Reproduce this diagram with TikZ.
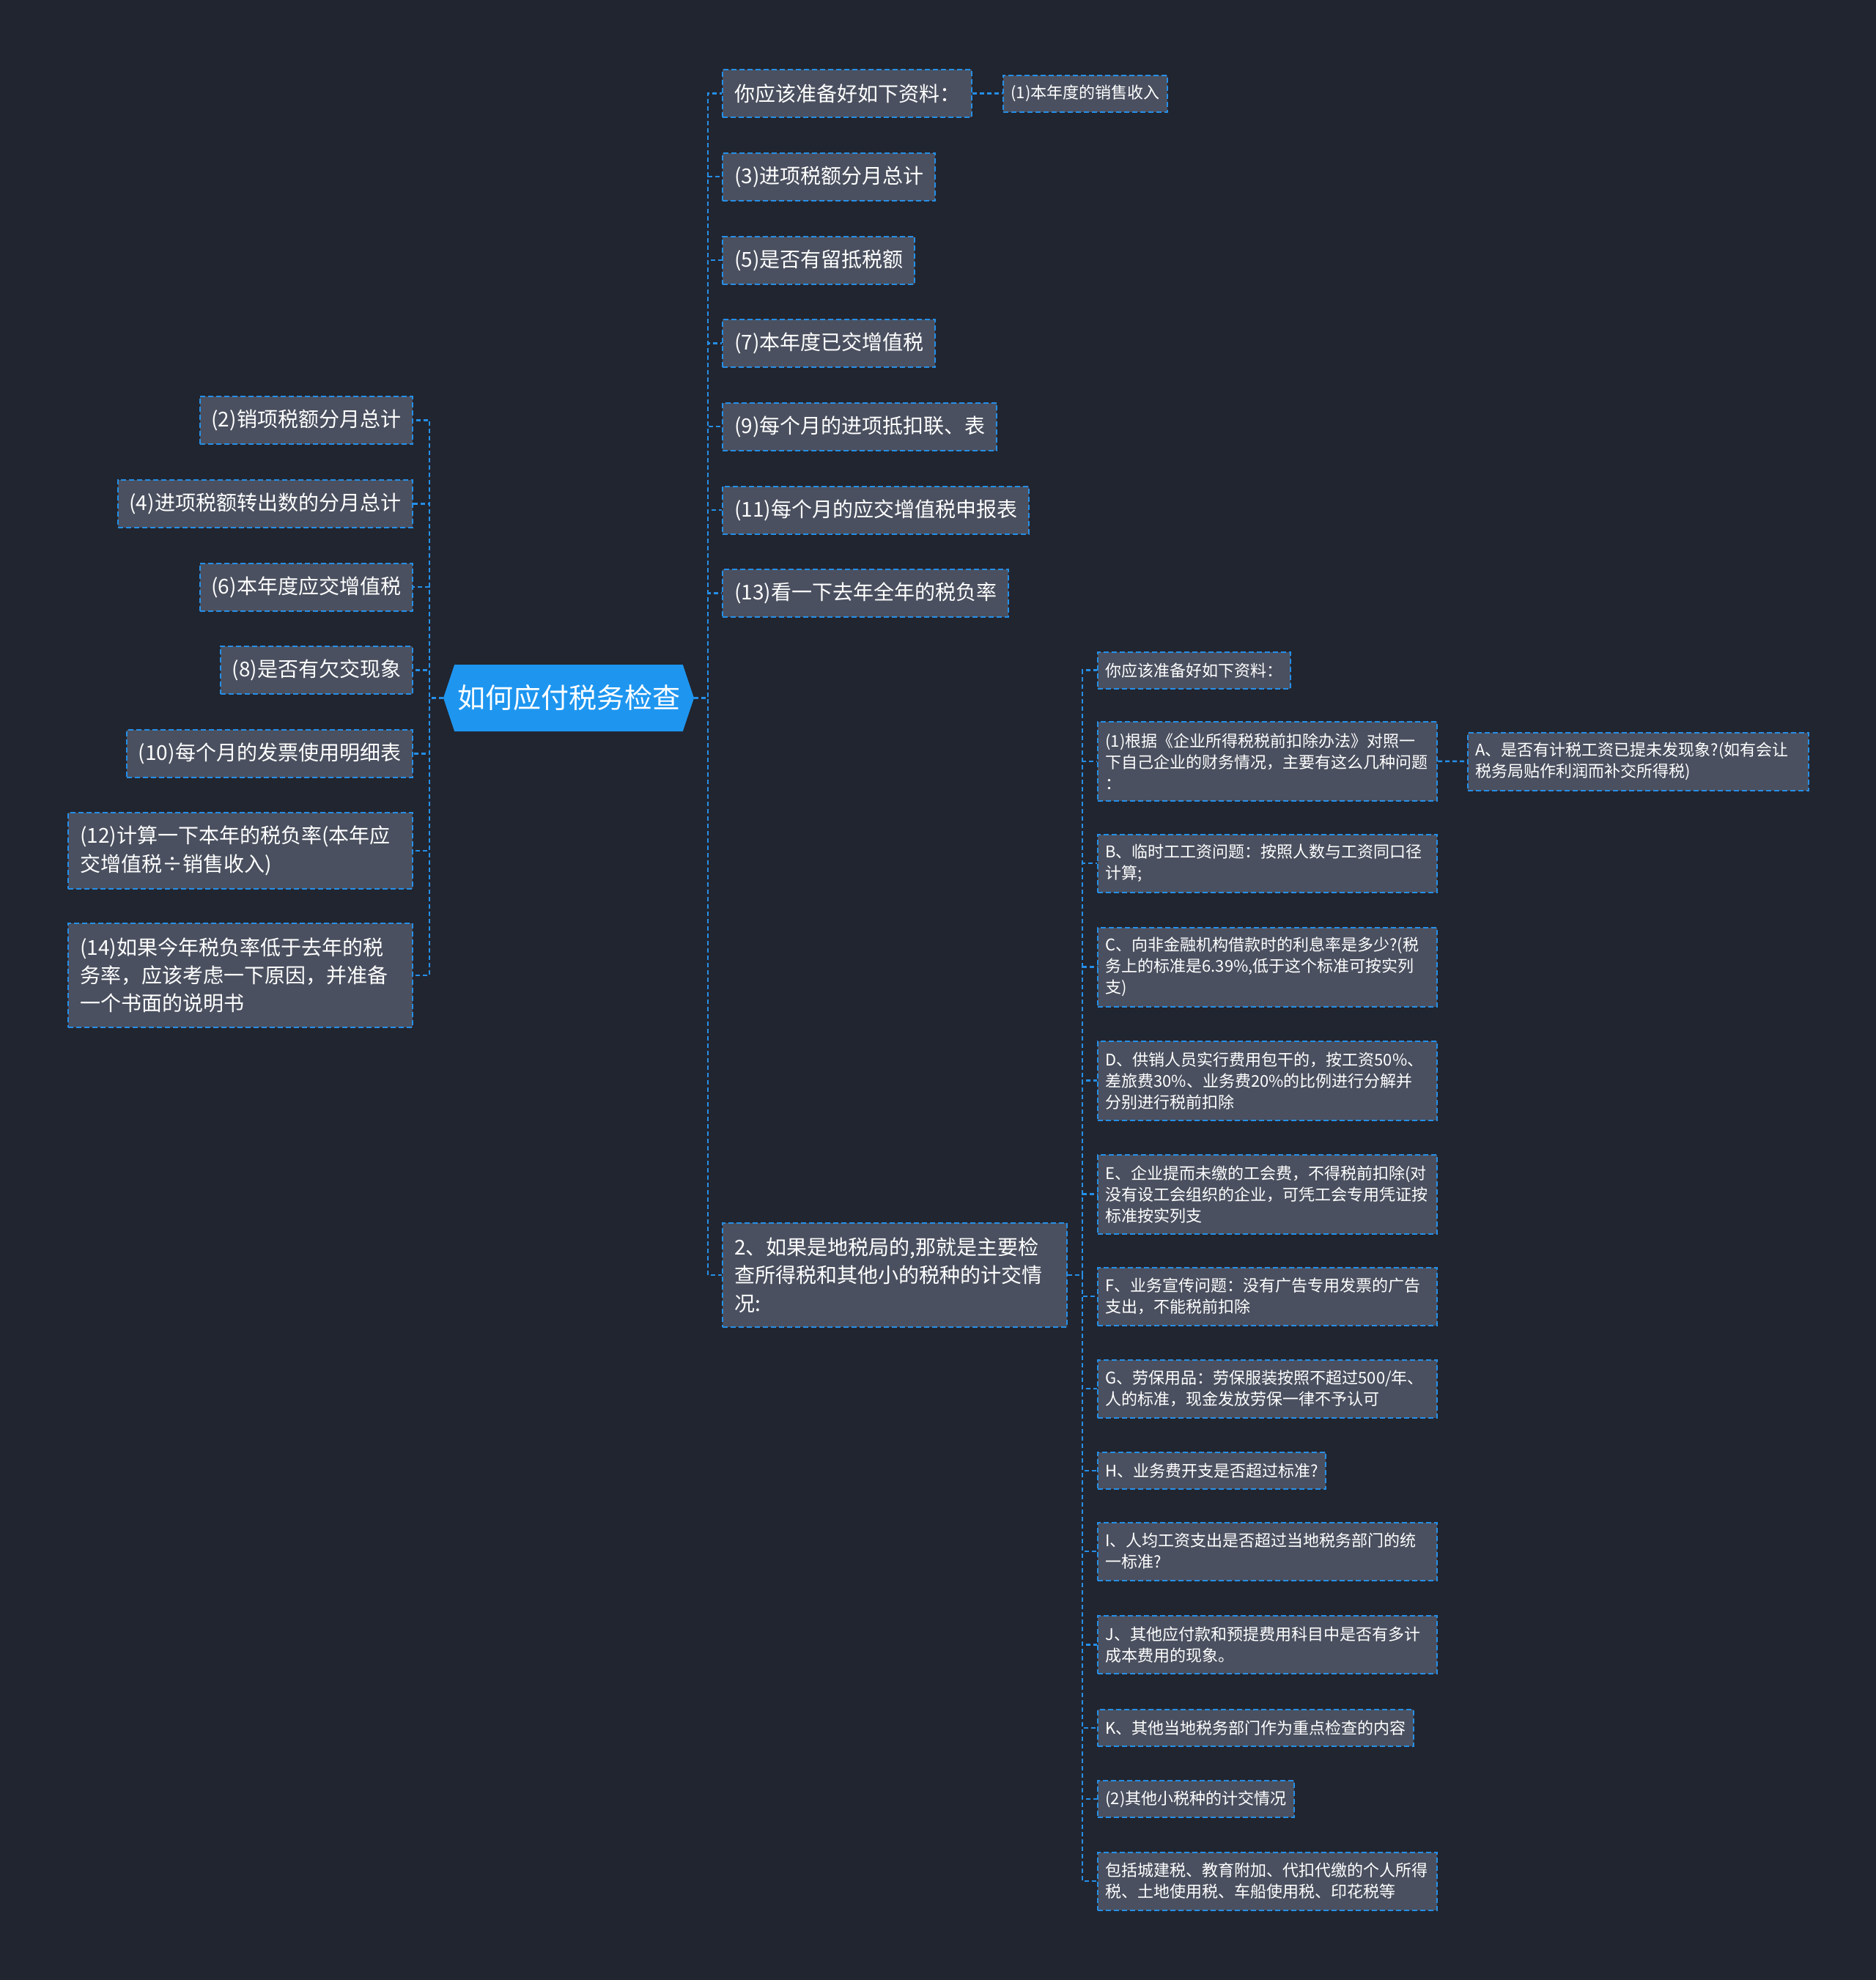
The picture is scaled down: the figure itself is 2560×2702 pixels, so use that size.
\documentclass[tikz,border=0pt]{standalone}
\usepackage{fontspec}
\setmainfont{Noto Sans CJK SC}
\usetikzlibrary{shapes.symbols}
\definecolor{bgdark}{RGB}{33,37,48}
\definecolor{boxfill}{RGB}{74,80,95}
\definecolor{linkblue}{RGB}{37,143,232}
\definecolor{rootblue}{RGB}{30,150,240}

\begin{document}
\begin{tikzpicture}[x=1pt, y=-1pt,
    mainbox/.style={signal, signal to=west and east, signal pointer angle=143, fill=rootblue,
        minimum width=342pt, minimum height=91pt, inner sep=0pt, text=white,
        font=\fontsize{38}{46}\selectfont},
    card/.style={fill=boxfill, draw=linkblue, line width=2pt, dash pattern=on 7pt off 4pt,
        text=white, inner ysep=4pt},
    topic/.style={card, inner xsep=16pt, minimum height=65pt, font=\fontsize{28}{38.3}\selectfont},
    topicwide/.style={topic, text width=438pt, align=left},
    subtopic/.style={card, inner xsep=10.5pt, minimum height=50pt, font=\fontsize{22}{29}\selectfont},
    subwide/.style={subtopic, text width=442pt, align=left},
    link/.style={draw=linkblue, line width=2.5pt, dash pattern=on 6pt off 4pt}
]
    \path[use as bounding box, fill=bgdark] (0,0) rectangle (2560,2702);

    \node[mainbox] (root) at (776,952.5) {如何应付税务检查};
    \coordinate (ltrunk) at (586,952.5);
    \coordinate (rtrunk) at (966,952.5);

    % left side
    \node[topic, anchor=east] (l2)  at (564,573.7)  {(2)销项税额分月总计};
    \node[topic, anchor=east] (l4)  at (564,687.4)  {(4)进项税额转出数的分月总计};
    \node[topic, anchor=east] (l6)  at (564,801)    {(6)本年度应交增值税};
    \node[topic, anchor=east] (l8)  at (564,914.7)  {(8)是否有欠交现象};
    \node[topic, anchor=east] (l10) at (564,1028.5) {(10)每个月的发票使用明细表};
    \node[topicwide, anchor=east, minimum height=104pt] (l12) at (564,1161)
        {(12)计算一下本年的税负率(本年应\\交增值税÷销售收入)};
    \node[topicwide, anchor=east, minimum height=142pt] (l14) at (564,1331)
        {(14)如果今年税负率低于去年的税\\务率，应该考虑一下原因，并准备\\一个书面的说明书};

    % right side
    \node[topic, anchor=west] (r1)  at (985,127.5) {你应该准备好如下资料：};
    \node[topic, anchor=west] (r3)  at (985,241)   {(3)进项税额分月总计};
    \node[topic, anchor=west] (r5)  at (985,355)   {(5)是否有留抵税额};
    \node[topic, anchor=west] (r7)  at (985,468.6) {(7)本年度已交增值税};
    \node[topic, anchor=west] (r9)  at (985,582)   {(9)每个月的进项抵扣联、表};
    \node[topic, anchor=west] (r11) at (985,696)   {(11)每个月的应交增值税申报表};
    \node[topic, anchor=west] (r13) at (985,809.7) {(13)看一下去年全年的税负率};
    \node[topicwide, anchor=west, minimum height=142pt] (r2) at (985,1740)
        {2、如果是地税局的,那就是主要检\\查所得税和其他小的税种的计交情\\况:};

    \node[subtopic, anchor=west] (r1a) at (1368,127.5) {(1)本年度的销售收入};
    \coordinate (qtrunk) at (1477,1740);

    % local tax items
    \node[subtopic, anchor=west] (qa) at (1497,914.7) {你应该准备好如下资料：};
    \node[subwide, anchor=west, minimum height=108pt] (qb) at (1497,1038.8)
        {(1)根据《企业所得税税前扣除办法》对照一\\下自己企业的财务情况，主要有这么几种问题\\：};
    \node[subtopic, anchor=west, text width=444pt, align=left, minimum height=79pt] (qba) at (2002,1039)
        {A、是否有计税工资已提未发现象?(如有会让\\税务局贴作利润而补交所得税)};
    \node[subwide, anchor=west, minimum height=79pt] (qc) at (1497,1178)
        {B、临时工工资问题：按照人数与工资同口径\\计算;};
    \node[subwide, anchor=west, minimum height=108pt] (qd) at (1497,1319.6)
        {C、向非金融机构借款时的利息率是多少?(税\\务上的标准是6.39\%,低于这个标准可按实列\\支)};
    \node[subwide, anchor=west, minimum height=108pt] (qe) at (1497,1474.6)
        {D、供销人员实行费用包干的，按工资50\%、\\差旅费30\%、业务费20\%的比例进行分解并\\分别进行税前扣除};
    \node[subwide, anchor=west, minimum height=108pt] (qf) at (1497,1629.7)
        {E、企业提而未缴的工会费，不得税前扣除(对\\没有设工会组织的企业，可凭工会专用凭证按\\标准按实列支};
    \node[subwide, anchor=west, minimum height=79pt] (qg) at (1497,1769.2)
        {F、业务宣传问题：没有广告专用发票的广告\\支出，不能税前扣除};
    \node[subwide, anchor=west, minimum height=79pt] (qh) at (1497,1895)
        {G、劳保用品：劳保服装按照不超过500/年、\\人的标准，现金发放劳保一律不予认可};
    \node[subtopic, anchor=west] (qi) at (1497,2007) {H、业务费开支是否超过标准?};
    \node[subwide, anchor=west, minimum height=79pt] (qj) at (1497,2117)
        {I、人均工资支出是否超过当地税务部门的统\\一标准?};
    \node[subwide, anchor=west, minimum height=79pt] (qk) at (1497,2244.7)
        {J、其他应付款和预提费用科目中是否有多计\\成本费用的现象。};
    \node[subtopic, anchor=west] (ql) at (1497,2358) {K、其他当地税务部门作为重点检查的内容};
    \node[subtopic, anchor=west] (qm) at (1497,2455) {(2)其他小税种的计交情况};
    \node[subwide, anchor=west, minimum height=79pt] (qn) at (1497,2567)
        {包括城建税、教育附加、代扣代缴的个人所得\\税、土地使用税、车船使用税、印花税等};

    % connectors
    \draw[link] (root.west) -- (ltrunk) |- (l2.east);
    \draw[link] (root.west) -- (ltrunk) |- (l4.east);
    \draw[link] (root.west) -- (ltrunk) |- (l6.east);
    \draw[link] (root.west) -- (ltrunk) |- (l8.east);
    \draw[link] (root.west) -- (ltrunk) |- (l10.east);
    \draw[link] (root.west) -- (ltrunk) |- (l12.east);
    \draw[link] (root.west) -- (ltrunk) |- (l14.east);

    \draw[link] (root.east) -- (rtrunk) |- (r1.west);
    \draw[link] (root.east) -- (rtrunk) |- (r3.west);
    \draw[link] (root.east) -- (rtrunk) |- (r5.west);
    \draw[link] (root.east) -- (rtrunk) |- (r7.west);
    \draw[link] (root.east) -- (rtrunk) |- (r9.west);
    \draw[link] (root.east) -- (rtrunk) |- (r11.west);
    \draw[link] (root.east) -- (rtrunk) |- (r13.west);
    \draw[link] (root.east) -- (rtrunk) |- (r2.west);

    \draw[link] (r1.east) -- (r1a.west);
    \draw[link] (qb.east) -- (qba.west);

    \draw[link] (r2.east) -- (qtrunk) |- (qa.west);
    \draw[link] (r2.east) -- (qtrunk) |- (qb.west);
    \draw[link] (r2.east) -- (qtrunk) |- (qc.west);
    \draw[link] (r2.east) -- (qtrunk) |- (qd.west);
    \draw[link] (r2.east) -- (qtrunk) |- (qe.west);
    \draw[link] (r2.east) -- (qtrunk) |- (qf.west);
    \draw[link] (r2.east) -- (qtrunk) |- (qg.west);
    \draw[link] (r2.east) -- (qtrunk) |- (qh.west);
    \draw[link] (r2.east) -- (qtrunk) |- (qi.west);
    \draw[link] (r2.east) -- (qtrunk) |- (qj.west);
    \draw[link] (r2.east) -- (qtrunk) |- (qk.west);
    \draw[link] (r2.east) -- (qtrunk) |- (ql.west);
    \draw[link] (r2.east) -- (qtrunk) |- (qm.west);
    \draw[link] (r2.east) -- (qtrunk) |- (qn.west);
\end{tikzpicture}
\end{document}
